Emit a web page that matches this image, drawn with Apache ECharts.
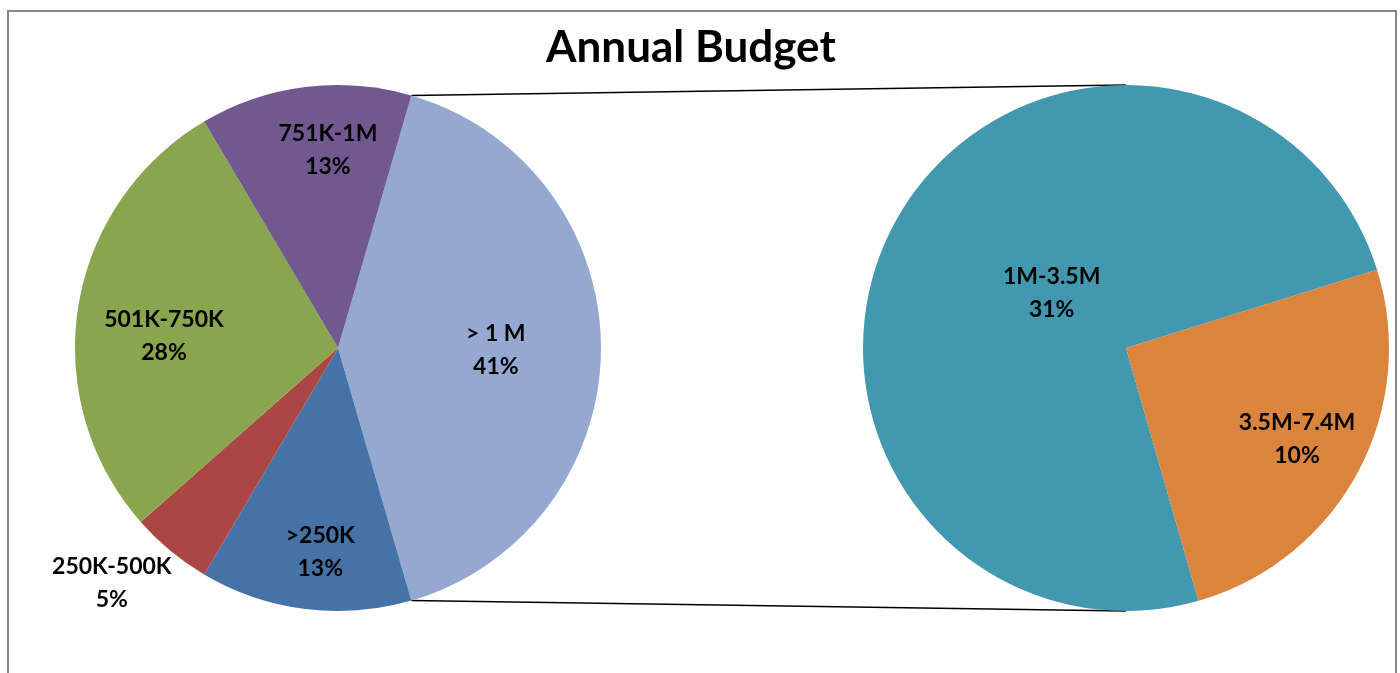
<!DOCTYPE html>
<html>
<head>
<meta charset="utf-8">
<script src="https://cdn.jsdelivr.net/npm/echarts@6/dist/echarts.min.js"></script>
<style>html,body{margin:0;padding:0;background:#fff}#c{width:1400px;height:673px}</style>
</head>
<body>
<div id="c"></div>
<script>
// ---- data ----
const title = 'Annual Budget';
const mainCategories = ['> 1 M', '>250K', '250K-500K', '501K-750K', '751K-1M'];
const mainValues = [41, 13, 5, 28, 13];
const subCategories = ['1M-3.5M', '3.5M-7.4M'];
const subValues = [30.6, 10.4];

// ---- styles / layout ----
const mainColors = ['#95A9D0', '#4572A7', '#AA4643', '#89A54E', '#71588F'];
const subColors = ['#4198AF', '#DB843D'];
const mainLabelDist = [0.6, 0.78, 1.17, 0.67, 0.76];
const mainLabelShift = [[0, 2], [8, 1], [-30, -2], [0, 16], [15, 0]];
const subLabelDist = [0.36, 0.73];
const subLabelShift = [[9, -10], [2, 0]];
const R = 263;
const mainCenter = [338, 348];
const subCenter = [1126, 348];
const otherShare = mainValues[0] / mainValues.reduce((a, b) => a + b, 0);
const mainStart = otherShare * 180;          // "other" slice symmetric around east
const subStart = -74;
const FONT = 'Lato, "Open Sans", sans-serif';

function midAngles(values, start) {
  const tot = values.reduce((a, b) => a + b, 0);
  let cum = 0;
  return values.map(v => { const m = start - (cum + v / 2) / tot * 360; cum += v; return m * Math.PI / 180; });
}
const geo = [
  { c: mainCenter, mids: midAngles(mainValues, mainStart), dist: mainLabelDist, shift: mainLabelShift },
  { c: subCenter, mids: midAngles(subValues, subStart), dist: subLabelDist, shift: subLabelShift }
];

const chart = echarts.init(document.getElementById('c'), null, { renderer: 'canvas' });

const a0 = mainStart * Math.PI / 180;
const p1 = [mainCenter[0] + R * Math.cos(a0), mainCenter[1] - R * Math.sin(a0)];
const p2 = [mainCenter[0] + R * Math.cos(-a0), mainCenter[1] - R * Math.sin(-a0)];

function labelLayout(p) {
  const g = geo[p.seriesIndex];
  const m = g.mids[p.dataIndex];
  const f = g.dist[p.dataIndex];
  const s = g.shift[p.dataIndex];
  return {
    x: g.c[0] + f * R * Math.cos(m) + s[0],
    y: g.c[1] - f * R * Math.sin(m) + s[1],
    align: 'center',
    verticalAlign: 'middle'
  };
}

const labelStyle = {
  show: true,
  position: 'inside',
  color: '#000',
  fontFamily: FONT,
  fontWeight: 'bold',
  fontSize: 23,
  lineHeight: 33,
  formatter: p => p.name + '\n' + Math.round(p.value) + '%'
};

chart.setOption({
  animation: false,
  backgroundColor: '#fff',
  title: {
    text: title,
    left: 541,
    top: 21,
    textStyle: { fontFamily: FONT, fontWeight: 'bold', fontSize: 44, color: '#000' }
  },
  graphic: [
    { type: 'rect', shape: { x: 8, y: 11, width: 1388, height: 700 }, style: { fill: 'none', stroke: '#868686', lineWidth: 2 }, silent: true, z: 0 },
    { type: 'line', shape: { x1: p1[0], y1: p1[1], x2: subCenter[0], y2: subCenter[1] - R }, style: { stroke: '#000', lineWidth: 1.5 }, z: 1 },
    { type: 'line', shape: { x1: p2[0], y1: p2[1], x2: subCenter[0], y2: subCenter[1] + R }, style: { stroke: '#000', lineWidth: 1.5 }, z: 1 }
  ],
  series: [
    {
      type: 'pie',
      center: mainCenter,
      radius: [0, R],
      startAngle: mainStart,
      clockwise: true,
      avoidLabelOverlap: false,
      emphasis: { disabled: true },
      itemStyle: { borderWidth: 0 },
      label: labelStyle,
      labelLine: { show: false },
      labelLayout: labelLayout,
      data: mainCategories.map((n, i) => ({ name: n, value: mainValues[i], itemStyle: { color: mainColors[i] } }))
    },
    {
      type: 'pie',
      center: subCenter,
      radius: [0, R],
      startAngle: subStart,
      clockwise: true,
      avoidLabelOverlap: false,
      emphasis: { disabled: true },
      itemStyle: { borderWidth: 0 },
      label: labelStyle,
      labelLine: { show: false },
      labelLayout: labelLayout,
      data: subCategories.map((n, i) => ({ name: n, value: subValues[i], itemStyle: { color: subColors[i] } }))
    }
  ]
});
</script>
</body>
</html>
